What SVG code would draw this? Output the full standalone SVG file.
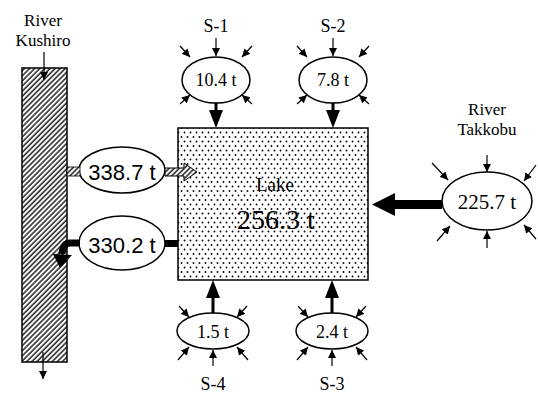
<svg xmlns="http://www.w3.org/2000/svg" width="538" height="398" viewBox="0 0 538 398">
<style>
.serif{font-family:"Liberation Serif","Times New Roman",serif;fill:#000;text-anchor:middle}
.sans{font-family:"Liberation Sans",Arial,sans-serif;fill:#000;text-anchor:middle}
.ell{fill:#fff;stroke:#000;stroke-width:1.5}
.thin{stroke:#000;stroke-width:1.2;fill:none;marker-end:url(#sa)}
.big{stroke:#000;stroke-width:3;fill:none}
</style>
<defs>
<marker id="sa" markerUnits="userSpaceOnUse" markerWidth="9" markerHeight="8" refX="8" refY="4" orient="auto">
<path d="M0,0 L8,4 L0,8 z" fill="#000"/>
</marker>
<pattern id="hatch" patternUnits="userSpaceOnUse" width="3.6" height="3.6" patternTransform="rotate(45)">
<rect width="3.6" height="3.6" fill="#fff"/>
<line x1="1" y1="0" x2="1" y2="3.6" stroke="#000" stroke-width="1.3"/>
</pattern>
<pattern id="dots" patternUnits="userSpaceOnUse" width="6" height="9">
<rect width="6" height="9" fill="#fff"/>
<circle cx="1.5" cy="2" r="0.9" fill="#000"/>
<circle cx="4.5" cy="6.5" r="0.9" fill="#000"/>
</pattern>
</defs>

<g id="kushiro">
<rect x="22" y="68" width="45" height="294" fill="url(#hatch)" stroke="#000" stroke-width="1.5"/>
<text class="serif" x="43" y="26" font-size="17">River</text>
<text class="serif" x="43" y="46" font-size="17">Kushiro</text>
</g>

<g id="lake">
<rect x="178" y="128" width="190" height="152" fill="url(#dots)" stroke="#000" stroke-width="1.5"/>
<text class="serif" x="275" y="191" font-size="19">Lake</text>
<text class="serif" x="276" y="229" font-size="28">256.3 t</text>
</g>

<g id="inflow-kushiro">
<ellipse class="ell" cx="122" cy="170" rx="43" ry="23"/>
<text class="sans" x="122" y="180" font-size="22">338.7 t</text>
</g>

<g id="outflow-kushiro">
<ellipse class="ell" cx="122" cy="243" rx="43" ry="27"/>
<text class="sans" x="122" y="253" font-size="22">330.2 t</text>
</g>

<g id="s1">
<text class="serif" x="216" y="32" font-size="18">S-1</text>
<ellipse class="ell" cx="216" cy="80" rx="34" ry="23"/>
<text class="serif" x="216" y="86" font-size="18">10.4 t</text>
</g>

<g id="s2">
<text class="serif" x="333" y="32" font-size="18">S-2</text>
<ellipse class="ell" cx="333" cy="80" rx="34" ry="23"/>
<text class="serif" x="333" y="86" font-size="18">7.8 t</text>
</g>

<g id="s4">
<ellipse class="ell" cx="213" cy="331" rx="36" ry="18"/>
<text class="serif" x="213" y="338" font-size="18">1.5 t</text>
<text class="serif" x="213" y="390" font-size="18">S-4</text>
</g>

<g id="s3">
<ellipse class="ell" cx="332" cy="331" rx="36" ry="18"/>
<text class="serif" x="332" y="338" font-size="18">2.4 t</text>
<text class="serif" x="332" y="390" font-size="18">S-3</text>
</g>

<g id="takkobu">
<text class="serif" x="487" y="115" font-size="17">River</text>
<text class="serif" x="487" y="135" font-size="17">Takkobu</text>
<ellipse class="ell" cx="487" cy="201" rx="45" ry="29"/>
<text class="serif" x="487" y="209" font-size="21">225.7 t</text>
</g>

<g id="connectors">
<line class="thin" x1="44" y1="52" x2="44" y2="80"/>
<line class="thin" x1="43" y1="352" x2="43" y2="379"/>

<rect x="67" y="167" width="13" height="9" fill="url(#hatch)" stroke="#000" stroke-width="0.8"/>
<path d="M165,168 L184,168 L184,163 L197,172 L184,181 L184,176 L165,176 z" fill="url(#hatch)" stroke="#000" stroke-width="1"/>

<rect x="165" y="240" width="13" height="7" fill="#000"/>
<path d="M80,243 L70,243 Q63,243 62,254" stroke="#000" stroke-width="7" fill="none"/>
<polygon points="53,254 72,255 60,268" fill="#000"/>

<line class="big" x1="216" y1="103" x2="216" y2="112"/>
<polygon points="209,110 223,110 216,128" fill="#000"/>
<line class="thin" x1="216" y1="38" x2="216" y2="56"/>
<line class="thin" x1="180" y1="46" x2="190" y2="57"/>
<line class="thin" x1="252" y1="46" x2="242" y2="57"/>
<line class="thin" x1="180" y1="104" x2="190" y2="95"/>
<line class="thin" x1="252" y1="104" x2="242" y2="95"/>

<line class="big" x1="333" y1="103" x2="333" y2="112"/>
<polygon points="326,110 340,110 333,128" fill="#000"/>
<line class="thin" x1="333" y1="38" x2="333" y2="56"/>
<line class="thin" x1="297" y1="46" x2="307" y2="57"/>
<line class="thin" x1="369" y1="46" x2="359" y2="57"/>
<line class="thin" x1="297" y1="104" x2="307" y2="95"/>
<line class="thin" x1="369" y1="104" x2="359" y2="95"/>

<line class="big" x1="213" y1="313" x2="213" y2="296"/>
<polygon points="206,298 220,298 213,280" fill="#000"/>
<line class="thin" x1="213" y1="366" x2="213" y2="350"/>
<line class="thin" x1="179" y1="306" x2="189" y2="317"/>
<line class="thin" x1="247" y1="306" x2="237" y2="317"/>
<line class="thin" x1="178" y1="360" x2="189" y2="347"/>
<line class="thin" x1="248" y1="360" x2="237" y2="347"/>

<line class="big" x1="332" y1="313" x2="332" y2="296"/>
<polygon points="325,298 339,298 332,280" fill="#000"/>
<line class="thin" x1="332" y1="366" x2="332" y2="350"/>
<line class="thin" x1="298" y1="306" x2="308" y2="317"/>
<line class="thin" x1="366" y1="306" x2="356" y2="317"/>
<line class="thin" x1="297" y1="360" x2="308" y2="347"/>
<line class="thin" x1="367" y1="360" x2="356" y2="347"/>

<rect x="393" y="200" width="49" height="9" fill="#000"/>
<polygon points="395,193 372,204.5 395,216" fill="#000"/>
<line class="thin" x1="487" y1="155" x2="487" y2="172"/>
<line class="thin" x1="432" y1="163" x2="448" y2="180"/>
<line class="thin" x1="536" y1="165" x2="524" y2="181"/>
<line class="thin" x1="437" y1="241" x2="450" y2="226"/>
<line class="thin" x1="536" y1="239" x2="524" y2="225"/>
<line class="thin" x1="487" y1="248" x2="487" y2="231"/>
</g>
</svg>
